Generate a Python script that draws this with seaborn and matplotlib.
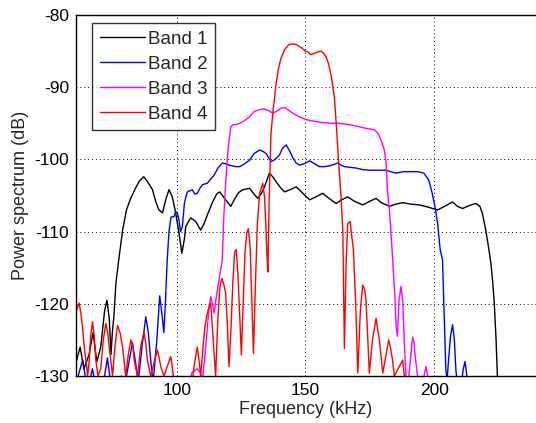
import numpy as np
import pandas as pd
import matplotlib
matplotlib.use("Agg")
import matplotlib.pyplot as plt
import seaborn as sns

# ---------------- data ----------------
band1_f = [61, 62.5, 64, 66, 67.5, 69, 70.5, 72, 72.9, 73.8, 74.5, 75, 75.6, 76.4, 77.5, 79,
           80.5, 82, 84, 85.5, 87.2, 88.5, 90.6, 92, 93.1, 94.5, 95.8, 97, 98.3, 99.6, 100.9,
           102, 103, 103.5, 105.4, 107.4, 109.3, 110.5, 111.9, 113.8, 115.5, 116.7, 119, 121,
           122.5, 124, 125.7, 128.3, 130, 131.5, 133, 134.1, 136, 137.5, 138.6, 140.5, 141.9,
           144, 146.4, 149, 151.6, 154, 156.7, 159.5, 161.9, 164, 166.4, 169, 172.2, 175,
           177.4, 179.5, 182.6, 185, 187.7, 191, 194.2, 197.5, 201.3, 204, 207.1, 209, 211,
           213.5, 216.2, 217.7, 218.7, 220, 221, 222, 222.7, 223.3, 224, 224.5, 225]
band1_db = [-128, -126, -129, -127, -124, -128, -126, -121, -119.5, -122, -127, -124, -121.8,
            -117.1, -113.9, -109.8, -107, -105.5, -104, -103, -102.4, -103, -104.2, -106, -107,
            -107.4, -105.5, -104.2, -105.2, -107.4, -110.2, -113, -111, -109.3, -108.1, -108.6,
            -109.8, -109, -107.7, -106, -104.8, -104.5, -105.6, -106.5, -105.5, -104.6, -104.2,
            -104, -104.8, -105.4, -104.6, -103.8, -101.9, -102.5, -103.1, -104, -104.5, -104.2,
            -103.8, -104.7, -105.6, -105.2, -104.7, -105.5, -106.1, -105.6, -105.2, -105.8,
            -106.3, -105.8, -105.4, -106, -106.5, -106.2, -106, -106.2, -106.3, -106.6, -107,
            -106.5, -105.9, -106.5, -106.8, -106.4, -106.1, -106.5, -107.5, -109.8, -112,
            -114.4, -117, -119.9, -125, -129.9, -131]

band2_f = [61, 62.5, 63.5, 64.5, 66, 67.3, 68.3, 72, 73.1, 74, 77, 78.5, 80, 81.5, 82.8, 84,
           85, 86.5, 88, 89, 89.9, 90.8, 92.3, 93.4, 94.3, 95, 95.6, 96.3, 97, 97.8, 99, 99.6,
           100.3, 100.9, 101.5, 102.2, 103, 104.1, 106.1, 107, 108, 109, 110, 111.9, 113,
           114.5, 116, 117.7, 119, 120.3, 122.9, 124.4, 126, 128.3, 130, 132.2, 133.5, 134.8,
           135.7, 136.7, 138.2, 139.9, 141, 142.5, 143.8, 145.1, 146.4, 147.7, 149.5, 151.6,
           153.5, 155.4, 157.5, 159.3, 161, 162.5, 163.8, 165.1, 167.5, 169.7, 172, 174.8,
           178, 181.3, 183, 185.2, 188, 190.8, 193.5, 196, 197.9, 199.2, 200.5, 201.3, 202.3,
           203.2, 203.9, 204.5, 205, 205.5, 206.3, 207.1, 207.8, 208.4, 209, 210.5, 211.3,
           211.9, 212.5, 212.9]
band2_db = [-131, -129, -127.8, -130, -131, -129, -131, -130, -127.5, -130, -131, -130, -131,
            -128, -125.4, -128, -131, -126, -121.8, -124, -127.8, -131, -125, -118.9, -121.5,
            -124, -120, -114, -110, -108, -107.9, -107.2, -107.5, -108.4, -110, -109.3, -106,
            -104.5, -104.2, -104.8, -104.7, -104, -103.5, -103.3, -102.8, -102.2, -101.2,
            -100.5, -100.6, -100.8, -101, -101, -100.7, -100.1, -99.2, -98.7, -98.9, -99.2,
            -99.8, -100.3, -100, -99.4, -98.5, -98, -98.8, -99.8, -100.5, -100.8, -100.6,
            -100.2, -100.6, -101, -101, -100.9, -100.7, -100.5, -100.8, -101, -101.1, -101.2,
            -101.4, -101.5, -101.5, -101.5, -101.7, -101.9, -101.7, -101.7, -101.7, -101.9,
            -102.9, -104.7, -107, -108.9, -112.5, -113.9, -122.2, -129.2, -130.5, -128, -124.5,
            -122.9, -125, -129.2, -131, -131, -129, -128, -129.5, -131]

band3_f = [103.5, 105, 106, 108, 109, 110, 111, 111.9, 112.6, 113.2, 113.9, 114.5, 115.2,
           116.4, 117.7, 118.3, 119, 119.7, 120.3, 121, 121.8, 123, 124.4, 126, 127.6, 128.3,
           130, 132.2, 133.8, 135.4, 137.3, 139, 140.5, 141.9, 143.5, 145.1, 147, 150.3, 153,
           156.7, 160, 163.2, 167.1, 170, 172.2, 175, 176.7, 178.2, 179.3, 180.6, 181.3, 181.9,
           182.6, 183.2, 184.1, 184.7, 185.2, 185.7, 186.3, 187.1, 187.8, 188.4, 189, 190,
           190.8, 191.6, 192.2, 192.6, 193.5, 195.5, 196.3, 196.8, 197.4, 198]
band3_db = [-131, -130.5, -129.5, -129, -129.5, -130.5, -127, -123.2, -120.5, -119, -120,
            -121.3, -119.5, -116.7, -113.9, -107.9, -103.3, -99.5, -97.5, -95.5, -95.2, -95.2,
            -95, -94.7, -94.3, -94.1, -93.4, -93.1, -93.0, -93.2, -93.6, -93.3, -92.9, -92.8,
            -93.2, -93.6, -94, -94.5, -94.7, -94.9, -95, -95, -95.2, -95.4, -95.6, -95.8,
            -95.9, -96.4, -97.3, -98.7, -100.5, -104.7, -107, -110.2, -115.3, -119, -123.2,
            -124.5, -119.5, -117.6, -120, -125.5, -130, -130.5, -127.5, -124.6, -125.5, -127.3,
            -130, -131, -129.5, -128.7, -130, -131]

band4_f = [61, 61.5, 62.1, 62.8, 63.5, 64.1, 64.8, 65.4, 66, 66.6, 67.3, 68, 68.6, 69.4, 70.5,
           71.5, 72.5, 73.2, 73.8, 75.1, 76, 77, 78, 79, 80.2, 81.2, 82.2, 83, 83.5, 84.8, 86,
           87.3, 88, 88.6, 89.9, 91.3, 92.5, 93.2, 93.8, 95.1, 96.5, 97.7, 98.2, 98.7, 99.3,
           106, 106.8, 108, 108.7, 109.3, 110.2, 111, 111.9, 112.5, 113.2, 114, 115.1, 116,
           116.8, 117.5, 118.2, 119, 119.7, 120.3, 121, 121.8, 122.5, 123.1, 123.8, 124.5,
           125.1, 125.8, 126.5, 127.2, 127.8, 128.5, 129.2, 129.8, 130.5, 131.3, 132.2, 133.4,
           134.1, 134.6, 135, 135.4, 135.9, 136.6, 137.5, 138.6, 139.5, 140.5, 141.9, 143.5,
           145.1, 146.5, 148.3, 150, 150.9, 152, 153.5, 155, 156.1, 157.2, 158, 159, 160,
           161.2, 162.1, 162.9, 163.8, 164.5, 165.1, 165.8, 166.4, 167.3, 168.6, 169.5, 170.3,
           171.3, 172.2, 173, 173.5, 174.2, 174.8, 176, 177.4, 178, 178.7, 180, 181.3, 182.3,
           183, 183.8, 184.5, 186, 187.7, 188.4, 189]
band4_db = [-121, -120.5, -119.9, -121.3, -123.5, -126, -128, -130, -128, -124.5, -122.5,
            -124.5, -127.8, -130, -129, -125, -122.7, -124, -126, -130, -126, -123, -124, -126,
            -130, -127, -125, -126, -127.8, -130, -126, -123.9, -125.5, -127.8, -130, -128,
            -126.4, -127.5, -128.7, -130, -128.5, -127.3, -128.5, -130, -131, -131, -128.5,
            -126, -128, -130, -126, -123, -121.3, -120.5, -119.9, -124, -130, -122, -117.5,
            -116.5, -117.2, -118.5, -123, -128.7, -124, -117, -112.8, -112.5, -116, -122,
            -127.1, -120, -113, -110.2, -109.6, -112, -120, -126.9, -118, -109, -104.7, -103.3,
            -105.2, -109, -113, -115.6, -105.6, -96.4, -93, -89.5, -87.4, -86, -84.8, -84.1,
            -84, -84.1, -84.5, -85, -85.1, -85.5, -85.3, -85.1, -85.0, -85.4, -85.8, -86.8,
            -88.5, -91.3, -95.9, -100.5, -105.2, -109.8, -126.2, -114, -108.9, -108.6, -112.5,
            -120, -129.6, -121, -117.4, -118, -119.5, -125, -129.6, -125, -122, -123.5, -125,
            -129.6, -127, -125, -126, -127.8, -130, -129, -127.8, -130, -131]

band_names = ["Band 1", "Band 2", "Band 3", "Band 4"]
band_colors = ["#000000", "#0000ff", "#ff00ff", "#ff0000"]
x_ticks = [100, 150, 200]
y_ticks = [-130, -120, -110, -100, -90, -80]

# ---------------- plotting ----------------
sns.set_style("white")
plt.rcParams["font.family"] = ["Liberation Sans", "DejaVu Sans"]
plt.rcParams["axes.unicode_minus"] = False

fig = plt.figure(figsize=(5.36, 4.23), dpi=100)
ax = fig.add_axes([76 / 536, 47 / 423, 460 / 536, 361 / 423])

series = [(band1_f, band1_db), (band2_f, band2_db), (band3_f, band3_db), (band4_f, band4_db)]
frames = []
for name, (f, d) in zip(band_names, series):
    frames.append(pd.DataFrame({"freq": f, "db": d, "band": name}))
df = pd.concat(frames, ignore_index=True)

for name, color in zip(band_names, band_colors):
    sub = df[df["band"] == name]
    sns.lineplot(data=sub, x="freq", y="db", ax=ax, color=color, lw=1.0,
                 estimator=None, sort=False, label=name)

ax.set_xlim(60.9, 239.5)
ax.set_ylim(-130, -80)
ax.set_xticks(x_ticks)
ax.set_yticks(y_ticks)
ax.tick_params(axis="both", labelsize=12.5, direction="in", length=4, width=0.8,
               colors="black", pad=5)
ax.grid(True, color="black", linestyle=(0, (1, 3)), linewidth=0.7)
for s in ["left", "top", "bottom"]:
    ax.spines[s].set_color("black")
    ax.spines[s].set_linewidth(1.0)
ax.spines["right"].set_visible(False)

ax.set_xlabel("Frequency (kHz)", fontsize=13, labelpad=2)
ax.set_ylabel("Power spectrum (dB)", fontsize=13, labelpad=4)

leg = ax.legend(loc="upper left", bbox_to_anchor=((92 - 76) / 460, (376 - 23) / 361),
                borderaxespad=0, fontsize=13.5, frameon=True, fancybox=False,
                edgecolor="black", handlelength=2.4, handletextpad=0.2,
                labelspacing=0.42, borderpad=0.4)
leg.get_frame().set_linewidth(1.0)

fig.savefig("out.png", dpi=100)
